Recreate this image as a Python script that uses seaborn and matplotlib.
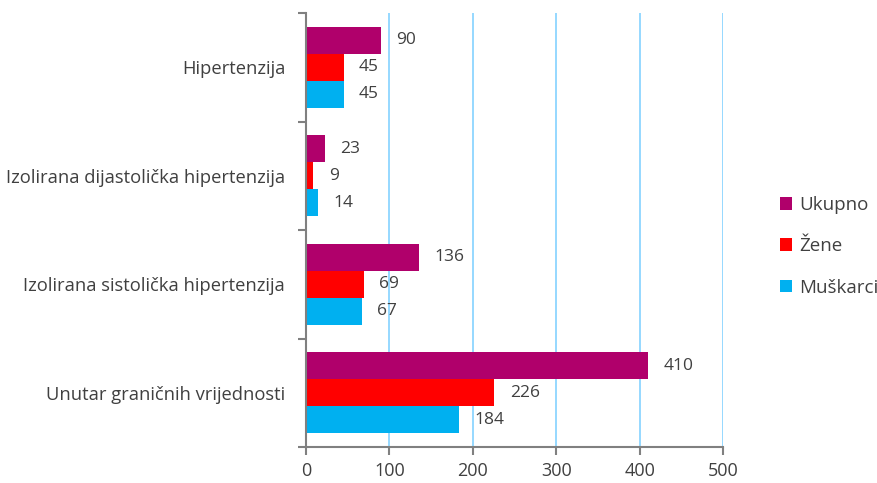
import pandas as pd
import matplotlib.pyplot as plt
import seaborn as sns
from matplotlib.ticker import FixedLocator

# Chart data
categories = ['Hipertenzija', 'Izolirana dijastolička hipertenzija',
              'Izolirana sistolička hipertenzija', 'Unutar graničnih vrijednosti']
series = ['Ukupno', 'Žene', 'Muškarci']
ukupno = [90, 23, 136, 410]
zene = [45, 9, 69, 226]
muskarci = [45, 14, 67, 184]
x_ticks = [0, 100, 200, 300, 400, 500]

colors = ['#B0006B', '#FF0000', '#00B0F0']

rows = []
for name, vals in zip(series, [ukupno, zene, muskarci]):
    for cat, v in zip(categories, vals):
        rows.append({'Kategorija': cat, 'Skupina': name, 'Broj': v})
df = pd.DataFrame(rows)

sns.set_style('white')
plt.rcParams['font.family'] = ['Open Sans', 'DejaVu Sans']
text_color = '#404040'

fig = plt.figure(figsize=(8.78, 4.83), dpi=100)
ax = fig.add_axes([0.3485, 0.0745, 0.475, 0.8985])

sns.barplot(data=df, y='Kategorija', x='Broj', hue='Skupina', order=categories,
            hue_order=series, palette=colors, orient='h', width=0.75,
            saturation=1, edgecolor='none', ax=ax)

# Data labels
for container in ax.containers:
    ax.bar_label(container, padding=11, fontsize=12.5, color=text_color)

ax.set_xlim(0, 500)
ax.set_ylim(3.5, -0.5)
ax.set_xticks(x_ticks)
ax.xaxis.grid(True, color='#8DD6FF', linewidth=1.3)
ax.set_axisbelow(True)
ax.set_xlabel('')
ax.set_ylabel('')

for side in ['top', 'right']:
    ax.spines[side].set_visible(False)
for side in ['left', 'bottom']:
    ax.spines[side].set_color('#808080')
    ax.spines[side].set_linewidth(1.5)

ax.tick_params(axis='x', which='major', length=6, width=1.5, color='#808080',
               labelsize=13, labelcolor=text_color, pad=5, direction='out', bottom=True)
ax.tick_params(axis='y', which='major', length=0, labelsize=13.2,
               labelcolor=text_color, pad=15)
ax.yaxis.set_minor_locator(FixedLocator([-0.5, 0.5, 1.5, 2.5, 3.5]))
ax.tick_params(axis='y', which='minor', length=6, width=1.5, color='#808080', left=True)

handles, labels = ax.get_legend_handles_labels()
ax.legend(handles, labels, loc='center left', bbox_to_anchor=(0.888, 0.49),
          bbox_transform=fig.transFigure, frameon=False, fontsize=13.5,
          handlelength=0.65, handleheight=0.65, handletextpad=0.4, labelspacing=1.25,
          labelcolor=text_color, borderpad=0, borderaxespad=0)

fig.savefig('out.png', dpi=100)
